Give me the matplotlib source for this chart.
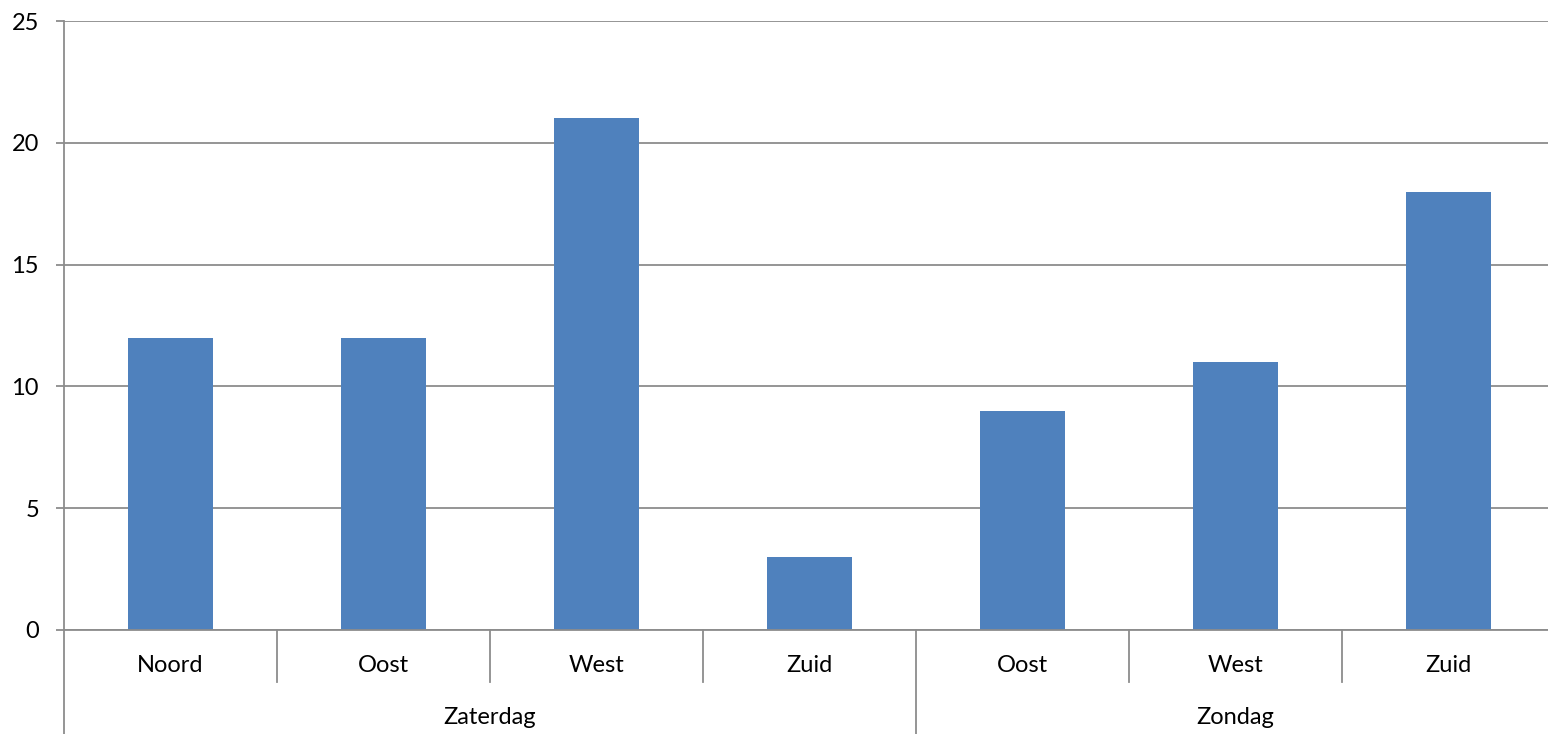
import matplotlib.pyplot as plt

# Gegevens
dagen = ["Zaterdag", "Zondag"]
richtingen = ["Noord", "Oost", "West", "Zuid", "Oost", "West", "Zuid"]
dag_per_balk = ["Zaterdag", "Zaterdag", "Zaterdag", "Zaterdag", "Zondag", "Zondag", "Zondag"]
aantallen = [12, 12, 21, 3, 9, 11, 18]
y_ticks = [0, 5, 10, 15, 20, 25]

plt.rcParams['font.family'] = ['Lato', 'DejaVu Sans']
grijs = "#8c8c8c"
blauw = "#4f81bd"

W, H = 1548, 734
fig = plt.figure(figsize=(W / 100, H / 100), dpi=100)
# as loopt iets voorbij de rechterrand (zoals in het origineel afgesneden)
ax = fig.add_axes([64 / W, (H - 630) / H, 1491 / W, 609 / H])

n = len(aantallen)
x = [i + 0.5 for i in range(n)]
ax.bar(x, aantallen, width=0.4, color=blauw, zorder=3)

ax.set_xlim(0, n)
ax.set_ylim(0, 25)
ax.set_yticks(y_ticks)
ax.yaxis.grid(True, color=grijs, linewidth=1.3, zorder=0)
ax.tick_params(axis='y', direction='out', length=6, width=1.3, color=grijs,
               labelsize=17, pad=12)
ax.set_xticks([])
for s in ["top", "right", "bottom"]:
    ax.spines[s].set_visible(False)
ax.spines["left"].set_color(grijs)
ax.spines["left"].set_linewidth(1.3)

tr = ax.get_xaxis_transform()
# onderas
ax.plot([0, n], [0, 0], color=grijs, lw=1.3, transform=tr, clip_on=False, zorder=4)
# linkeras doorgetrokken tot onderkant
ax.plot([0, 0], [0, -104 / 609], color=grijs, lw=1.3, transform=tr, clip_on=False)

# scheidingslijnen en labels
sub_h = -52 / 609
for i in range(1, n):
    if dag_per_balk[i] != dag_per_balk[i - 1]:
        ax.plot([i, i], [0, -104 / 609], color=grijs, lw=1.3, transform=tr, clip_on=False)
    else:
        ax.plot([i, i], [0, sub_h], color=grijs, lw=1.3, transform=tr, clip_on=False)

for xi, lab in zip(x, richtingen):
    ax.text(xi, -35 / 609, lab, transform=tr, ha='center', va='center', fontsize=17)

for d in dagen:
    idx = [i for i, v in enumerate(dag_per_balk) if v == d]
    midden = (idx[0] + idx[-1] + 1) / 2
    ax.text(midden, -87 / 609, d, transform=tr, ha='center', va='center', fontsize=17)

fig.savefig("out.png", dpi=100)
